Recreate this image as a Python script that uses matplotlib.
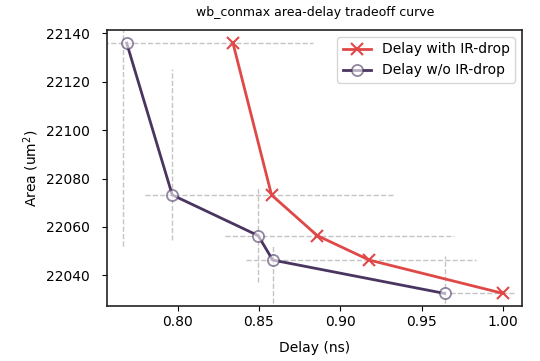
import matplotlib
matplotlib.use("Agg")
import matplotlib.pyplot as plt

# Data
area = [22136.0, 22073.2, 22056.4, 22046.3, 22032.5]
delay_ir = [0.834, 0.8577, 0.8858, 0.9177, 1.0000]
delay_noir = [0.7687, 0.7967, 0.8495, 0.8584, 0.9640]

# Dashed guide lines (data units)
h_y = [22136.0, 22073.2, 22056.4, 22046.3, 22032.5]
h_x0 = [0.70, 0.7799, 0.8291, 0.8420, 0.9672]
h_x1 = [0.8831, 0.9322, 0.9697, 0.9832, 1.0073]
v_x = [0.7667, 0.7963, 0.8495, 0.8584, 0.9640]
v_y0 = [22052.2, 22054.4, 22037.1, 22000.0, 22000.0]
v_y1 = [22200.0, 22125.2, 22076.0, 22052.0, 22048.1]

fig = plt.figure(figsize=(5.4, 3.61), dpi=100)
ax = fig.add_axes([0.1987, 0.153, 0.7683, 0.764])

red = '#E04848'
purple = '#4A3460'

ax.hlines(h_y, h_x0, h_x1, colors='#c4c4c4', linestyles='--', linewidth=1.0, zorder=1)
ax.vlines(v_x, v_y0, v_y1, colors='#c4c4c4', linestyles='--', linewidth=1.0, zorder=1)

ax.plot(delay_ir, area, color=red, marker='x', markersize=9, markeredgewidth=1.5,
        linewidth=2, label='Delay with IR-drop', zorder=3)
ax.plot(delay_noir, area, color=purple, marker='o', markersize=8, markeredgewidth=1.3,
        markerfacecolor=(1, 1, 1, 0.6), linewidth=2, label='Delay w/o IR-drop', zorder=3)

ax.set_xlim(0.7568, 1.0117)
ax.set_ylim(22027.4, 22141.4)
ax.set_xticks([0.80, 0.85, 0.90, 0.95, 1.00])
ax.set_yticks([22040, 22060, 22080, 22100, 22120, 22140])
ax.tick_params(labelsize=10)
ax.tick_params(axis='y', pad=9)
for s in ax.spines.values():
    s.set_linewidth(1.2)
    s.set_color('#222222')

ax.set_xlabel('Delay (ns)', fontsize=10, labelpad=8)
ax.set_ylabel('Area (um$^2$)', fontsize=10)
ax.set_title('wb_conmax area-delay tradeoff curve', fontsize=9, pad=10)
ax.legend(loc='upper right', fontsize=10)

fig.savefig('out.png', dpi=100)
